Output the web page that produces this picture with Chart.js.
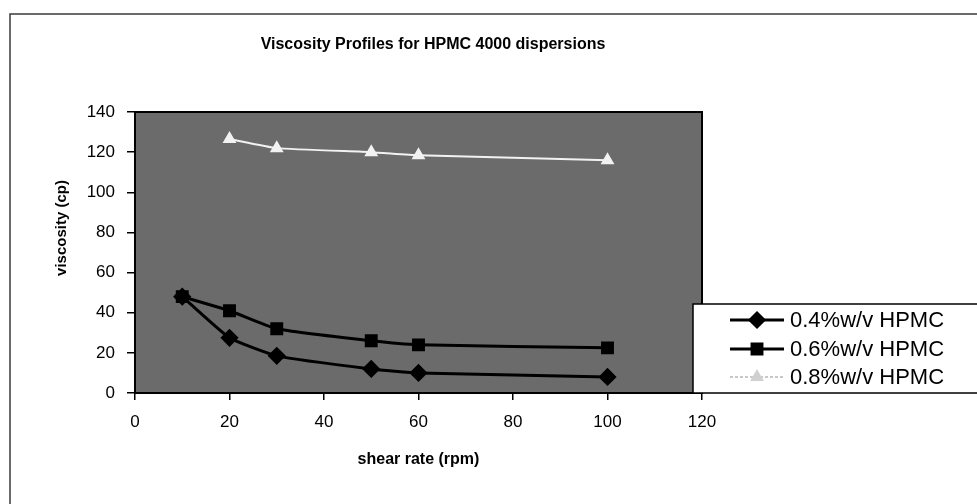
<!DOCTYPE html>
<html>
<head>
<meta charset="utf-8">
<script src="https://cdn.jsdelivr.net/npm/chart.js@4.4.1/dist/chart.umd.min.js"></script>
<style>
  html, body { margin: 0; padding: 0; background: #fff; }
  #wrap { position: relative; width: 977px; height: 504px; }
</style>
</head>
<body>
<div id="wrap"><canvas id="chart" width="977" height="504"></canvas></div>
<script>
const chartTitle = "Viscosity Profiles for HPMC 4000 dispersions";
const xTitle = "shear rate (rpm)";
const yTitle = "viscosity (cp)";

const shearLow = [10, 20, 30, 50, 60, 100];
const shearHigh = [20, 30, 50, 60, 100];

const visc04 = [48, 27.5, 18.5, 12, 10, 8];
const visc06 = [48, 41, 32, 26, 24, 22.5];
const visc08 = [126.5, 122, 120, 118.5, 116];

const seriesLabels = ["0.4%w/v HPMC", "0.6%w/v HPMC", "0.8%w/v HPMC"];

const toPoints = (xs, ys) => xs.map((x, i) => ({ x: x, y: ys[i] }));
const FONT = "Arial, 'Liberation Sans', sans-serif";

// frame, plot background, titles and legend box
const decor = {
    id: "decor",
    beforeDraw(chart) {
        const ctx = chart.ctx;
        const a = chart.chartArea;
        ctx.save();
        ctx.strokeStyle = "#3a3a3a";
        ctx.lineWidth = 1.5;
        ctx.beginPath();
        ctx.moveTo(10, 504);
        ctx.lineTo(10, 14);
        ctx.lineTo(977, 14);
        ctx.stroke();

        ctx.fillStyle = "#6b6b6b";
        ctx.fillRect(a.left, a.top, a.right - a.left, a.bottom - a.top);

        ctx.fillStyle = "#000";
        ctx.font = "bold 16px " + FONT;
        ctx.textAlign = "center";
        ctx.textBaseline = "middle";
        ctx.fillText(chartTitle, 433, 45);

        ctx.translate(62, 228);
        ctx.rotate(-Math.PI / 2);
        ctx.font = "bold 15px " + FONT;
        ctx.fillText(yTitle, 0, 0);
        ctx.restore();
    },
    afterDatasetsDraw(chart) {
        const ctx = chart.ctx;
        const a = chart.chartArea;
        ctx.save();
        ctx.strokeStyle = "#000";
        ctx.lineWidth = 2;
        ctx.strokeRect(a.left, a.top, a.right - a.left, a.bottom - a.top);
        ctx.restore();
    },
    afterDraw(chart) {
        const ctx = chart.ctx;
        ctx.save();
        ctx.fillStyle = "#fff";
        ctx.fillRect(693, 304, 300, 89);
        ctx.strokeStyle = "#000";
        ctx.lineWidth = 1.5;
        ctx.strokeRect(693, 304, 300, 89);
        const rows = [320, 349, 377];
        chart.data.datasets.forEach((ds, i) => {
            const y = rows[i];
            const faint = ds.borderColor === "#f2f2f2";
            ctx.strokeStyle = faint ? "#c8c8c8" : ds.borderColor;
            ctx.lineWidth = ds.borderWidth;
            ctx.setLineDash(faint ? [3, 2] : []);
            ctx.beginPath();
            ctx.moveTo(730, y);
            ctx.lineTo(784, y);
            ctx.stroke();
            ctx.setLineDash([]);
            ctx.fillStyle = faint ? "#d0d0d0" : ds.pointBackgroundColor;
            ctx.strokeStyle = ctx.fillStyle;
            Chart.helpers.drawPoint(ctx, {
                pointStyle: ds.pointStyle,
                radius: ds.pointRadius,
                borderWidth: 1
            }, 757, y);
            ctx.fillStyle = "#000";
            ctx.font = "22px " + FONT;
            ctx.textAlign = "left";
            ctx.textBaseline = "middle";
            ctx.fillText(ds.label, 790, y + 1);
        });
        ctx.restore();
    }
};

new Chart(document.getElementById("chart"), {
    type: "line",
    data: {
        datasets: [{
            label: seriesLabels[0],
            data: toPoints(shearLow, visc04),
            borderColor: "#000",
            backgroundColor: "#000",
            pointBackgroundColor: "#000",
            pointBorderColor: "#000",
            borderWidth: 3,
            pointStyle: "rectRot",
            pointRadius: 7,
            tension: 0.15
        }, {
            label: seriesLabels[1],
            data: toPoints(shearLow, visc06),
            borderColor: "#000",
            backgroundColor: "#000",
            pointBackgroundColor: "#000",
            pointBorderColor: "#000",
            borderWidth: 3,
            pointStyle: "rect",
            pointRadius: 7,
            tension: 0.15
        }, {
            label: seriesLabels[2],
            data: toPoints(shearHigh, visc08),
            borderColor: "#f2f2f2",
            backgroundColor: "#f2f2f2",
            pointBackgroundColor: "#f2f2f2",
            pointBorderColor: "#f2f2f2",
            borderWidth: 2,
            pointStyle: "triangle",
            pointRadius: 6,
            tension: 0.15
        }]
    },
    options: {
        responsive: false,
        animation: false,
        layout: { padding: { left: 0, right: 275, top: 112, bottom: 0 } },
        plugins: {
            legend: { display: false },
            title: { display: false },
            tooltip: { enabled: false }
        },
        scales: {
            x: {
                type: "linear",
                min: 0,
                max: 120,
                afterFit: s => { s.height = 111; },
                ticks: {
                    stepSize: 20,
                    color: "#000",
                    padding: 12,
                    font: { size: 17, family: FONT }
                },
                grid: {
                    drawOnChartArea: false,
                    tickLength: 7,
                    tickColor: "#000",
                    lineWidth: 1.5
                },
                border: { color: "#000", width: 2 },
                title: {
                    display: true,
                    text: xTitle,
                    color: "#000",
                    padding: { top: 0, bottom: 35 },
                    font: { size: 16, weight: "bold", family: FONT }
                }
            },
            y: {
                min: 0,
                max: 140,
                afterFit: s => { s.width = 135; },
                ticks: {
                    stepSize: 20,
                    color: "#000",
                    padding: 12,
                    font: { size: 17, family: FONT }
                },
                grid: {
                    drawOnChartArea: false,
                    tickLength: 8,
                    tickColor: "#000",
                    lineWidth: 1.5
                },
                border: { color: "#000", width: 2 }
            }
        }
    },
    plugins: [decor]
});
</script>
</body>
</html>
